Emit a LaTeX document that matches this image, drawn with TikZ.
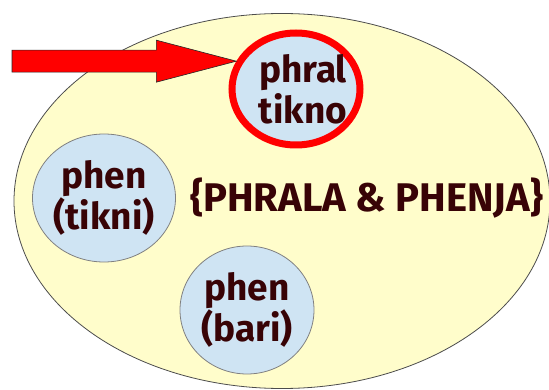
\documentclass[tikz,border=0pt]{standalone}
\usepackage{fontspec}
\setmainfont{Fira Sans}
\usetikzlibrary{shapes.geometric,calc}
\definecolor{setyellow}{HTML}{FFFDCB}
\definecolor{elemblue}{HTML}{CFE4F3}
\definecolor{textbrown}{HTML}{380306}

\begin{document}
\begin{tikzpicture}[x=1pt,y=-1pt,
    bigfont/.style={text=textbrown,font=\fontsize{40}{42}\selectfont\bfseries},
    set/.style={ellipse,draw=black!70,line width=0.8pt,fill=setyellow,inner sep=0},
    elem/.style={ellipse,draw=black!50,line width=0.8pt,fill=elemblue,inner sep=0},
    elemtext/.style={text=textbrown,font=\fontsize{37}{41}\selectfont\bfseries,align=center,inner sep=0},
    marked/.style={elem,draw=red,line width=7pt},
    bigarrow/.style={draw=black!85,line width=0.6pt,fill=red}]
  \useasboundingbox (0,0) rectangle (549,390);
  % set and its name
  \node[set,minimum width=536pt,minimum height=375pt] (family) at (282,201) {};
  \node[bigfont] (name) at (367,198) {\{PHRALA \& PHENJA\}};
  % members
  \node[marked,minimum width=128pt,minimum height=112pt,
    label={[elemtext,xshift=7pt]center:{phral\\tikno}}] (tikno) at (296,89) {};
  \node[elem,minimum width=143pt,minimum height=128pt,
    label={[elemtext]center:{phen\\(tikni)}}] (tikni) at (104,198) {};
  \node[elem,minimum width=134pt,minimum height=128pt,
    label={[elemtext]center:{phen\\(bari)}}] (bari) at (247,310) {};
  % pointer
  \coordinate (tip) at (tikno.155);
  \coordinate (tail) at (12,0 |- tip);
  \draw[bigarrow] ($(tail)+(0,-11)$) -- ($(tip)+(-80,-11)$) -- ($(tip)+(-80,-21)$) -- (tip)
    -- ($(tip)+(-80,21)$) -- ($(tip)+(-80,11)$) -- ($(tail)+(0,11)$) -- cycle;
\end{tikzpicture}
\end{document}
